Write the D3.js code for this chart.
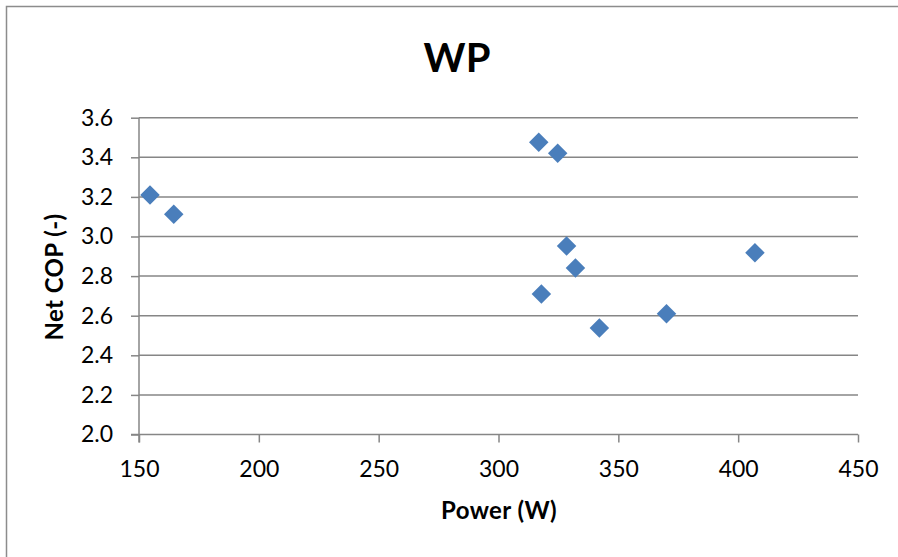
<!DOCTYPE html>
<html lang="en">
<head>
<meta charset="UTF-8">
<title>WP</title>
<script src="https://d3js.org/d3.v7.min.js"></script>
<style>
  body { margin: 0; background: #fff; font-family: 'Lato', 'Open Sans', sans-serif; }
  svg { display: block; }
  .grid line { stroke: #868686; stroke-width: 1.5; }
  .axis path, .axis line { stroke: #868686; stroke-width: 1.5; }
  .axis text { font-size: 23px; fill: #000; font-family: 'Lato', sans-serif; }
  .title { font-size: 40px; font-weight: bold; }
  .axis-title { font-size: 24px; font-weight: bold; letter-spacing: 0.4px; }
</style>
</head>
<body>
<svg width="898" height="557"></svg>
<script>
const powerW = [154.6, 164.5, 316.8, 324.7, 328.4, 317.9, 342.1, 370.1, 407.0, 332.1];
const netCOP = [3.21, 3.112, 3.476, 3.42, 2.952, 2.71, 2.538, 2.61, 2.918, 2.841];
const xTicks = [150, 200, 250, 300, 350, 400, 450];
const yTicks = [2.0, 2.2, 2.4, 2.6, 2.8, 3.0, 3.2, 3.4, 3.6];

const svg = d3.select("svg");
const width = 898, height = 557;
const plot = { left: 139, right: 858, top: 117.7, bottom: 434.5 };

// chart area frame
svg.append("rect")
  .attr("x", 6.5).attr("y", 6.5)
  .attr("width", width).attr("height", height)
  .attr("fill", "none").attr("stroke", "#8c8c8c").attr("stroke-width", 1.5);

const x = d3.scaleLinear().domain([150, 450]).range([plot.left, plot.right]);
const y = d3.scaleLinear().domain([2.0, 3.6]).range([plot.bottom, plot.top]);

// horizontal gridlines
svg.append("g").attr("class", "grid")
  .selectAll("line").data(yTicks.slice(1)).join("line")
  .attr("x1", plot.left).attr("x2", plot.right)
  .attr("y1", d => y(d)).attr("y2", d => y(d));

const xAxis = svg.append("g").attr("class", "axis")
  .attr("transform", `translate(0,${plot.bottom})`)
  .call(d3.axisBottom(x).tickValues(xTicks).tickSize(8).tickPadding(18).tickFormat(d3.format("d")));
xAxis.select(".domain").attr("d", `M${plot.left - 8},0H${plot.right}`);

const yAxis = svg.append("g").attr("class", "axis")
  .attr("transform", `translate(${plot.left},0)`)
  .call(d3.axisLeft(y).tickValues(yTicks).tickSize(8).tickPadding(18).tickFormat(d3.format(".1f")));
yAxis.select(".domain").attr("d", `M0,${plot.top}V${plot.bottom + 8}`);

// points
const pts = powerW.map((p, i) => [p, netCOP[i]]);
svg.append("g").selectAll("path").data(pts).join("path")
  .attr("d", d3.symbol().type(d3.symbolSquare).size(190))
  .attr("transform", d => `translate(${x(d[0])},${y(d[1])}) rotate(45)`)
  .attr("fill", "#4a7ebb");

svg.append("text").attr("class", "title")
  .attr("x", 457).attr("y", 72).attr("text-anchor", "middle").text("WP");

svg.append("text").attr("class", "axis-title")
  .attr("x", 499).attr("y", 519).attr("text-anchor", "middle").text("Power (W)");

svg.append("text").attr("class", "axis-title")
  .attr("transform", "translate(63,277) rotate(-90)")
  .attr("text-anchor", "middle").text("Net COP (-)");
</script>
</body>
</html>
